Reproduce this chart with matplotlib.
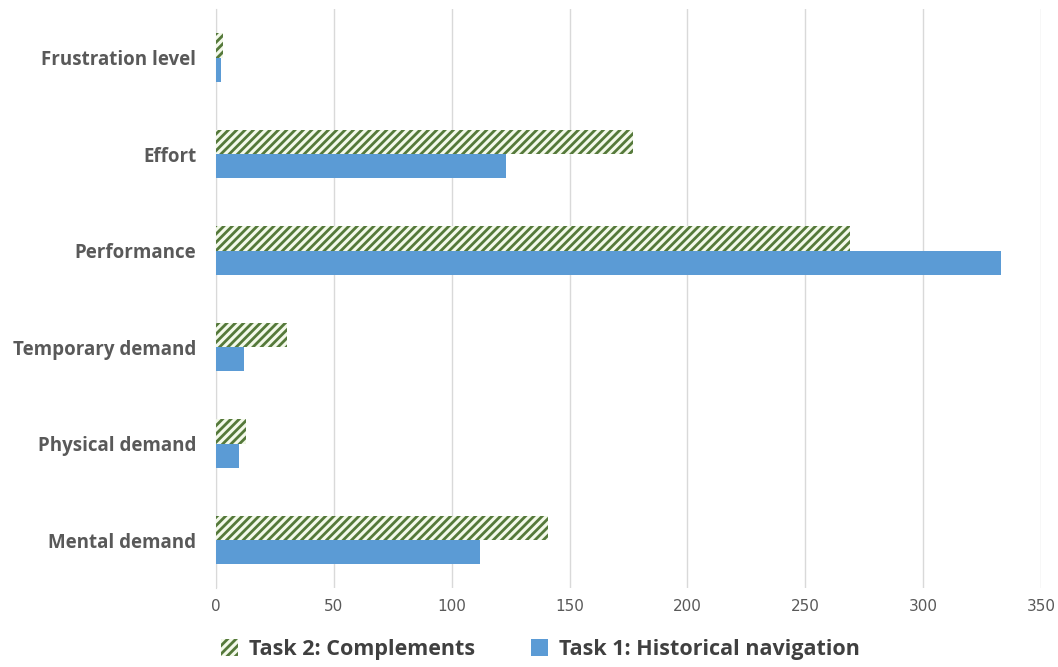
import matplotlib.pyplot as plt
import numpy as np

plt.rcParams['hatch.linewidth'] = 2.0

categories = ["Mental demand", "Physical demand", "Temporary demand",
              "Performance", "Effort", "Frustration level"]
task1_historical = [112, 10, 12, 333, 123, 2]
task2_complements = [141, 13, 30, 269, 177, 3]
x_ticks = [0, 50, 100, 150, 200, 250, 300, 350]

blue = "#5b9bd5"
green = "#55793a"
label_grey = "#595959"

fig = plt.figure(figsize=(10.58, 6.67), dpi=100)
ax = fig.add_axes([0.204, 0.118, 0.78, 0.868])

y = np.arange(len(categories))
h = 0.25

ax.barh(y - h / 2, task1_historical, height=h, color=blue,
        label="Task 1: Historical navigation", zorder=3)
ax.barh(y + h / 2, task2_complements, height=h, color="#f3f9ea",
        edgecolor=green, hatch="////", linewidth=0,
        label="Task 2: Complements", zorder=3)

ax.set_xlim(0, 350)
ax.set_ylim(-0.5, 5.5)
ax.set_xticks(x_ticks)
ax.set_yticks(y)
ax.set_yticklabels(categories, fontsize=13.5, fontweight="bold",
                   color=label_grey, family="Open Sans")
for lbl in ax.get_xticklabels():
    lbl.set_family("Liberation Sans Narrow")
ax.tick_params(axis="x", labelsize=11, colors=label_grey, length=0, pad=8)
ax.tick_params(axis="y", length=0, pad=14)

ax.grid(axis="x", color="#d9d9d9", linewidth=1, zorder=0)
for side in ["top", "right", "bottom"]:
    ax.spines[side].set_visible(False)
ax.spines["left"].set_color("#d9d9d9")

handles, labels = ax.get_legend_handles_labels()
leg = fig.legend(handles[::-1], labels[::-1], loc="center",
                 bbox_to_anchor=(0.511, 0.026), ncol=2, frameon=False,
                 prop={"family": "Open Sans", "weight": "bold", "size": 15.5},
                 handlelength=0.8, handleheight=0.8, handletextpad=0.5,
                 columnspacing=2.6)
for t in leg.get_texts():
    t.set_color("#404040")

fig.savefig("out.png", dpi=100, facecolor="white")
